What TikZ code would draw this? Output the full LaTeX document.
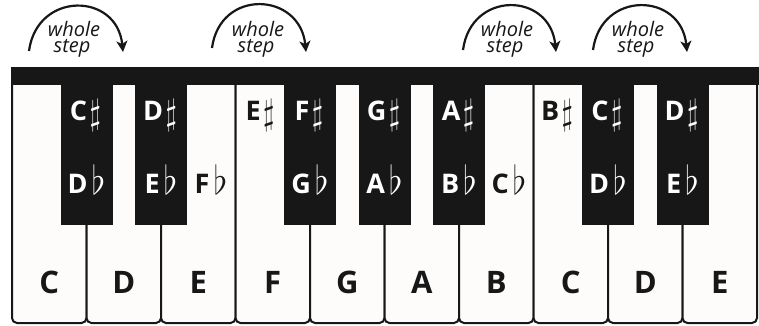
\documentclass[tikz,border=0pt]{standalone}
\usepackage{fontspec}
\usepackage{graphicx}
\setmainfont{Open Sans}
\usetikzlibrary{arrows.meta}

\definecolor{keyblack}{RGB}{23,23,23}
\definecolor{keywhite}{RGB}{253,252,250}

% accidentals drawn with the math glyphs, scaled up to sit beside the letters
\newcommand\accsharp{\kern2.5pt\raisebox{-4pt}{\scalebox{1.2}[1.45]{$\sharp$}}}
\newcommand\accflat{\kern4pt\raisebox{-1pt}{\scalebox{1.45}[1.6]{$\flat$}}}

\begin{document}
\begin{tikzpicture}[x=1pt,y=-1pt,
  whitekey/.style={draw=keyblack, line width=2pt, fill=keywhite, rounded corners=5pt},
  blackkey/.style={fill=keyblack},
  wlabel/.style={anchor=base, inner sep=0pt, text=keyblack,
    font=\bfseries\fontsize{31}{36}\selectfont},
  blabel/.style={anchor=base, inner sep=0pt, text=white,
    font=\bfseries\fontsize{27}{30}\selectfont},
  olabel/.style={blabel, text=keyblack},
  steptext/.style={anchor=base, inner sep=0pt, text=keyblack,
    font=\itshape\fontsize{20}{20}\selectfont},
  steparrow/.style={draw=keyblack, line width=2.2pt,
    -{Stealth[length=11pt,width=11pt,inset=3pt]}}
]
\useasboundingbox (0,0) rectangle (759,326);

% white keys, each with rounded lower corners
\foreach \i in {0,...,9} {
  \pgfmathsetmacro\xa{12+74.5*\i}
  \pgfmathsetmacro\xb{\xa+74.5}
  \path[whitekey] (\xa,84) -- (\xa,323) -- (\xb,323) -- (\xb,84);
}

% bar across the top of the keyboard
\fill[keyblack] (10.5,67) rectangle (758.5,85);

% black keys, centred on the white key boundaries
\foreach \k in {1,2,4,5,6,8,9} {
  \fill[blackkey] ({12+74.5*\k-26},84) rectangle ({12+74.5*\k+26},225);
}

% white key names
\node[wlabel] (wC1) at (49.25,293) {C};
\node[wlabel] (wD1) at (123.75,293) {D};
\node[wlabel] (wE1) at (198.25,293) {E};
\node[wlabel] (wF)  at (272.75,293) {F};
\node[wlabel] (wG)  at (347.25,293) {G};
\node[wlabel] (wA)  at (421.75,293) {A};
\node[wlabel] (wB)  at (496.25,293) {B};
\node[wlabel] (wC2) at (570.75,293) {C};
\node[wlabel] (wD2) at (645.25,293) {D};
\node[wlabel] (wE2) at (719.75,293) {E};

% sharps
\node[blabel] (sC1) at (85.5,120.5)  {C\accsharp};
\node[blabel] (sD1) at (160,120.5)   {D\accsharp};
\node[olabel] (sE)  at (260,120.5)   {E\accsharp};
\node[blabel] (sF)  at (309,120.5)   {F\accsharp};
\node[blabel] (sG)  at (383.5,120.5) {G\accsharp};
\node[blabel] (sA)  at (458,120.5)   {A\accsharp};
\node[olabel] (sB)  at (557,120.5)   {B\accsharp};
\node[blabel] (sC2) at (607,120.5)   {C\accsharp};
\node[blabel] (sD2) at (681.5,120.5) {D\accsharp};

% flats
\node[blabel] (fD1) at (86.5,193)  {D\accflat};
\node[blabel] (fE1) at (161,193)   {E\accflat};
\node[olabel] (fF)  at (211,193)   {F\accflat};
\node[blabel] (fG)  at (310,193)   {G\accflat};
\node[blabel] (fA)  at (384.5,193) {A\accflat};
\node[blabel] (fB)  at (459,193)   {B\accflat};
\node[olabel] (fC)  at (509,193)   {C\accflat};
\node[blabel] (fD2) at (608,193)   {D\accflat};
\node[blabel] (fE2) at (682.5,193) {E\accflat};

% whole-step arcs with their captions
\coordinate (a1) at (29,51);  \coordinate (b1) at (123,52);
\coordinate (a2) at (212,48); \coordinate (b2) at (306,52);
\coordinate (a3) at (463,50); \coordinate (b3) at (556,52);
\coordinate (a4) at (593,50); \coordinate (b4) at (687,52);
\foreach \n in {1,2,3,4} {
  \draw[steparrow] (a\n) .. controls +(8,-60) and +(-6,-60) .. (b\n);
}
\foreach \n/\x in {1/74,2/258,3/507,4/638} {
  \node[steptext] (w\n) at (\x,37) {whole};
  \node[steptext] (s\n) at (\x-2,53) {step};
}
\end{tikzpicture}
\end{document}
